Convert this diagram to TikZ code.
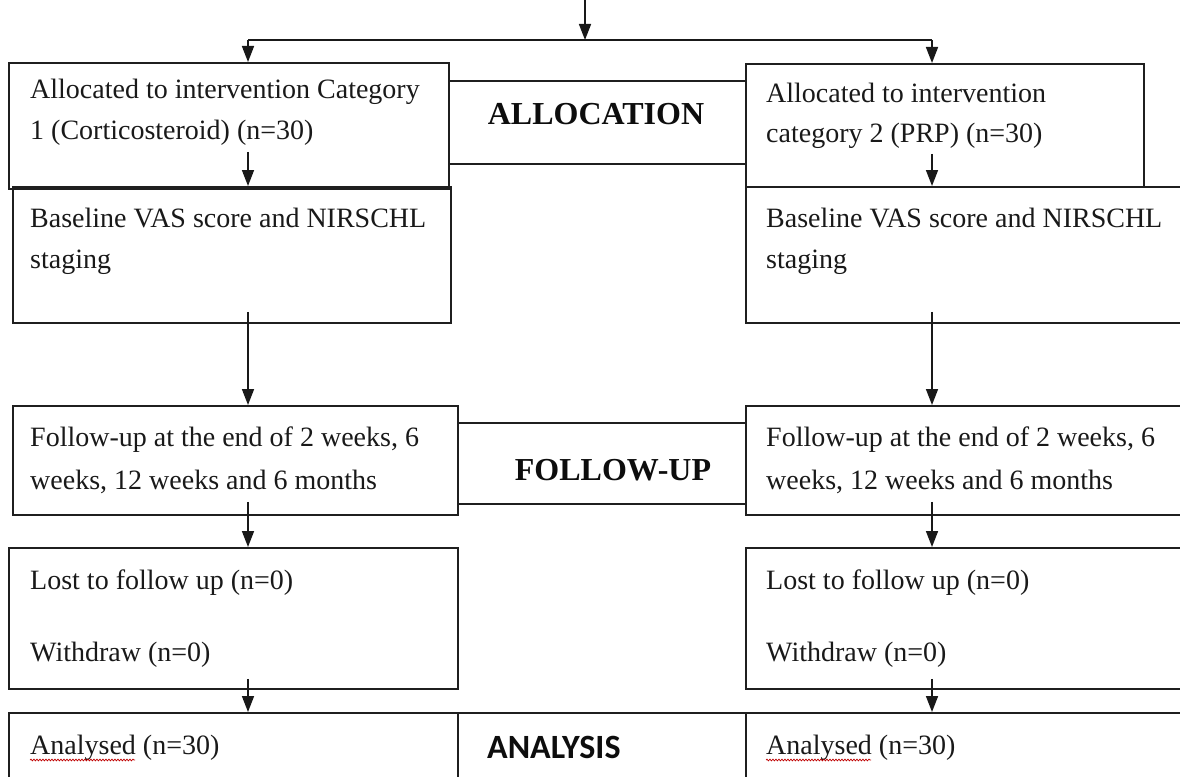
\documentclass[tikz,border=0pt]{standalone}
\usepackage{fontspec}
\setmainfont{Liberation Serif}
\newfontfamily\calfont{Carlito}
\usetikzlibrary{arrows.meta,decorations.pathmorphing,calc}
\begin{document}
\begin{tikzpicture}[x=1pt,y=-1pt,
  box/.style={draw=black!88, line width=1.8pt, rectangle, inner sep=0pt, anchor=north west},
  txt/.style={anchor=base west, inner sep=0pt, font=\fontsize{28}{34}\selectfont, text=black!90},
  hd/.style={anchor=base, inner sep=0pt, font=\fontsize{32}{38}\selectfont\bfseries, text=black!95},
  arr/.style={line width=1.6pt, draw=black!90, -{Triangle[width=12pt,length=16pt]}},
  ln/.style={line width=1.6pt, draw=black!90},
  wavy/.style={draw=red!75!black, line width=0.7pt, decorate, decoration={snake, amplitude=0.9pt, segment length=3pt}}]
\useasboundingbox (0,0) rectangle (1180,776);
% boxes
\node[box, minimum width=440pt, minimum height=126pt] (A1) at (8,62) {};
\node[box, minimum width=297pt, minimum height=83pt] (AL) at (448,80) {};
\node[box, minimum width=398pt, minimum height=123pt] (A2) at (745,63) {};
\node[box, minimum width=438pt, minimum height=136pt] (B1) at (12,186) {};
\node[box, minimum width=445pt, minimum height=136pt] (B2) at (745,186) {};
\node[box, minimum width=445pt, minimum height=109pt] (F1) at (12,405) {};
\node[box, minimum width=288pt, minimum height=81pt] (FU) at (457,422) {};
\node[box, minimum width=445pt, minimum height=109pt] (F2) at (745,405) {};
\node[box, minimum width=449pt, minimum height=141pt] (L1) at (8,547) {};
\node[box, minimum width=445pt, minimum height=141pt] (L2) at (745,547) {};
\node[box, minimum width=449pt, minimum height=90pt] (N1) at (8,712) {};
\node[box, minimum width=288pt, minimum height=90pt] (AN) at (457,712) {};
\node[box, minimum width=445pt, minimum height=90pt] (N2) at (745,712) {};
% connectors
\coordinate (cL) at (248,0);
\coordinate (cR) at (932,0);
\coordinate (top) at (585,0);
\coordinate (split) at (585,40);
\draw[arr] (top) -- (split);
\draw[ln] (cL |- split) -- (cR |- split);
\draw[arr] (cL |- split) -- (cL |- A1.north);
\draw[arr] (cR |- split) -- (cR |- A2.north);
\draw[arr] ($(cL |- A1.south)+(0,-38)$) -- (cL |- B1.north);
\draw[arr] ($(cR |- A2.south)+(0,-34)$) -- (cR |- B2.north);
\draw[arr] ($(cL |- B1.south)+(0,-12)$) -- (cL |- F1.north);
\draw[arr] ($(cR |- B2.south)+(0,-12)$) -- (cR |- F2.north);
\draw[arr] ($(cL |- F1.south)+(0,-14)$) -- (cL |- L1.north);
\draw[arr] ($(cR |- F2.south)+(0,-14)$) -- (cR |- L2.north);
\draw[arr] ($(cL |- L1.south)+(0,-11)$) -- (cL |- N1.north);
\draw[arr] ($(cR |- L2.south)+(0,-11)$) -- (cR |- N2.north);
% texts
\node[txt] (a1a) at (30,99) {Allocated to intervention Category};
\node[txt] (a1b) at (30,139) {1 (Corticosteroid) (n=30)};
\node[hd] (alh) at (596,124) {ALLOCATION};
\node[txt] (a2a) at (766,102) {Allocated to intervention};
\node[txt] (a2b) at (766,142) {category 2 (PRP) (n=30)};
\node[txt] (b1a) at (30,227) {Baseline VAS score and NIRSCHL};
\node[txt] (b1b) at (30,268) {staging};
\node[txt] (b2a) at (766,227) {Baseline VAS score and NIRSCHL};
\node[txt] (b2b) at (766,268) {staging};
\node[txt] (f1a) at (30,446) {Follow-up at the end of 2 weeks, 6};
\node[txt] (f1b) at (30,489) {weeks, 12 weeks and 6 months};
\node[hd] (fuh) at (613,480) {FOLLOW-UP};
\node[txt] (f2a) at (766,446) {Follow-up at the end of 2 weeks, 6};
\node[txt] (f2b) at (766,489) {weeks, 12 weeks and 6 months};
\node[txt] (l1a) at (30,589) {Lost to follow up (n=0)};
\node[txt] (l1b) at (30,661) {Withdraw (n=0)};
\node[txt] (l2a) at (766,589) {Lost to follow up (n=0)};
\node[txt] (l2b) at (766,661) {Withdraw (n=0)};
\node[txt] (n1a) at (30,754) {Analysed (n=30)};
\node[txt] (n2a) at (766,754) {Analysed (n=30)};
\node[anchor=base west, inner sep=0pt, font=\calfont\bfseries\fontsize{34}{40}\selectfont, text=black!95] (anh) at (487,758) {ANALYSIS};
\draw[wavy] ($(n1a.base west)+(0,6)$) -- ++(105,0);
\draw[wavy] ($(n2a.base west)+(0,6)$) -- ++(105,0);
\end{tikzpicture}
\end{document}
